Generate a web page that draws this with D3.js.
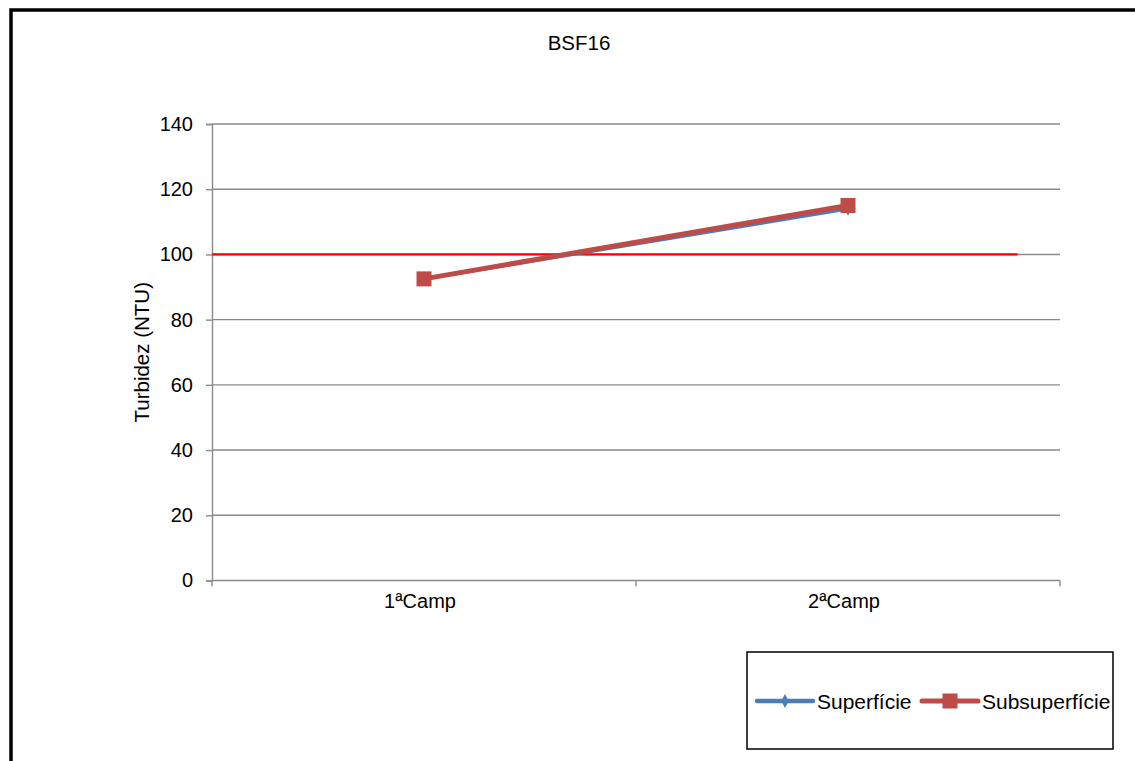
<!DOCTYPE html>
<html>
<head>
<meta charset="utf-8">
<script src="https://cdn.jsdelivr.net/npm/d3@7"></script>
<style>
  html, body { margin: 0; padding: 0; background: #fff; }
  svg { display: block; font-family: "Liberation Sans", Arial, sans-serif; }
</style>
</head>
<body>
<svg id="chart" width="1135" height="761"></svg>
<script>
// Chart data
const categories = ["1ªCamp", "2ªCamp"];
const superficie = [92.5, 114];
const subsuperficie = [92.5, 115];
const yTicks = [0, 20, 40, 60, 80, 100, 120, 140];
const limitValue = 100;            // reference level (NTU)
const limitSpan = [0, 1.9];        // extent of the reference line in category units
const chartTitle = "BSF16";
const yTitle = "Turbidez (NTU)";
const seriesNames = ["Superfície", "Subsuperfície"];

const svg = d3.select("#chart");
const W = 1135, H = 761;

// outer frame
svg.append("rect")
  .attr("x", 11).attr("y", 10)
  .attr("width", W + 20).attr("height", H + 20)
  .attr("fill", "#fff").attr("stroke", "#000").attr("stroke-width", 3.5);

const plot = { left: 212, right: 1060, top: 124, bottom: 580.5 };

const x = d3.scaleBand().domain(categories).range([plot.left, plot.right]).padding(0);
const xPos = d3.scaleLinear().domain([0, categories.length]).range([plot.left, plot.right]);
const y = d3.scaleLinear().domain([0, 140]).range([plot.bottom, plot.top]);
const cx = c => x(c) + x.bandwidth() / 2;

const grey = "#8a8a8a";

// horizontal gridlines
svg.append("g").selectAll("line").data(yTicks.filter(t => t > 0)).join("line")
  .attr("x1", plot.left).attr("x2", plot.right)
  .attr("y1", d => y(d)).attr("y2", d => y(d))
  .attr("stroke", grey).attr("stroke-width", 1.4);

// y axis
const yAxis = svg.append("g").attr("transform", `translate(${plot.left},0)`)
  .call(d3.axisLeft(y).tickValues(yTicks).tickSize(6).tickPadding(13));
yAxis.select(".domain").attr("stroke", grey).attr("stroke-width", 1.4);
yAxis.selectAll(".tick line").attr("stroke", grey).attr("stroke-width", 1.4);
yAxis.selectAll("text").attr("font-size", 20).attr("fill", "#000")
  .attr("font-family", "Liberation Sans, Arial, sans-serif");

// x axis line with tick marks at category boundaries
svg.append("line")
  .attr("x1", plot.left).attr("x2", plot.right)
  .attr("y1", y(0)).attr("y2", y(0))
  .attr("stroke", grey).attr("stroke-width", 1.4);
const bounds = d3.range(categories.length + 1);
svg.append("g").selectAll("line").data(bounds).join("line")
  .attr("x1", d => xPos(d)).attr("x2", d => xPos(d))
  .attr("y1", y(0)).attr("y2", y(0) + 6)
  .attr("stroke", grey).attr("stroke-width", 1.4);
svg.append("g").selectAll("text").data(categories).join("text")
  .attr("x", d => cx(d) - 4).attr("y", y(0) + 27)
  .attr("text-anchor", "middle").attr("font-size", 20).attr("fill", "#000")
  .text(d => d);

// reference level
svg.append("line")
  .attr("x1", xPos(limitSpan[0])).attr("x2", xPos(limitSpan[1]))
  .attr("y1", y(limitValue)).attr("y2", y(limitValue))
  .attr("stroke", "#ff0000").attr("stroke-width", 2.2);

const line = d3.line().x((d, i) => cx(categories[i])).y(d => y(d));
const blue = "#4a7ebb", red = "#be4b48";
const diamond = d3.symbol(d3.symbolDiamond, 40);

// Superfície series
svg.append("path").datum(superficie).attr("d", line)
  .attr("fill", "none").attr("stroke", blue).attr("stroke-width", 3.5);
svg.append("g").selectAll("path").data(superficie).join("path")
  .attr("d", diamond)
  .attr("transform", (d, i) => `translate(${cx(categories[i])},${y(d)}) scale(1.1,1.2)`)
  .attr("fill", blue);

// Subsuperfície series
svg.append("path").datum(subsuperficie).attr("d", line)
  .attr("fill", "none").attr("stroke", red).attr("stroke-width", 5);
svg.append("g").selectAll("rect").data(subsuperficie).join("rect")
  .attr("x", (d, i) => cx(categories[i]) - 7.5).attr("y", d => y(d) - 7.5)
  .attr("width", 15).attr("height", 15).attr("fill", red);

// title
svg.append("text").attr("x", 579).attr("y", 50).attr("text-anchor", "middle")
  .attr("font-size", 20.5).attr("fill", "#000").text(chartTitle);

// y title
svg.append("text")
  .attr("transform", `translate(149,${(plot.top + plot.bottom) / 2}) rotate(-90)`)
  .attr("text-anchor", "middle").attr("font-size", 20.5).attr("fill", "#000")
  .text(yTitle);

// legend
const lg = svg.append("g");
lg.append("rect").attr("x", 747).attr("y", 652).attr("width", 366).attr("height", 97)
  .attr("fill", "#fff").attr("stroke", "#000").attr("stroke-width", 1.5);
const legendItems = [
  { name: seriesNames[0], color: blue, x0: 757, marker: "diamond" },
  { name: seriesNames[1], color: red, x0: 922, marker: "square" }
];
const ly = 701;
legendItems.forEach(it => {
  lg.append("line").attr("x1", it.x0).attr("x2", it.x0 + 56)
    .attr("y1", ly).attr("y2", ly)
    .attr("stroke", it.color).attr("stroke-width", it.marker === "square" ? 5 : 4.5)
    .attr("stroke-linecap", "round");
  if (it.marker === "square") {
    lg.append("rect").attr("x", it.x0 + 28 - 7.5).attr("y", ly - 7.5)
      .attr("width", 15).attr("height", 15).attr("fill", it.color);
  } else {
    lg.append("path").attr("d", diamond)
      .attr("transform", `translate(${it.x0 + 28},${ly}) scale(1.1,1.2)`)
      .attr("fill", it.color);
  }
  lg.append("text").attr("x", it.x0 + 60).attr("y", ly + 7.5)
    .attr("font-size", 21).attr("fill", "#000").text(it.name);
});
</script>
</body>
</html>
